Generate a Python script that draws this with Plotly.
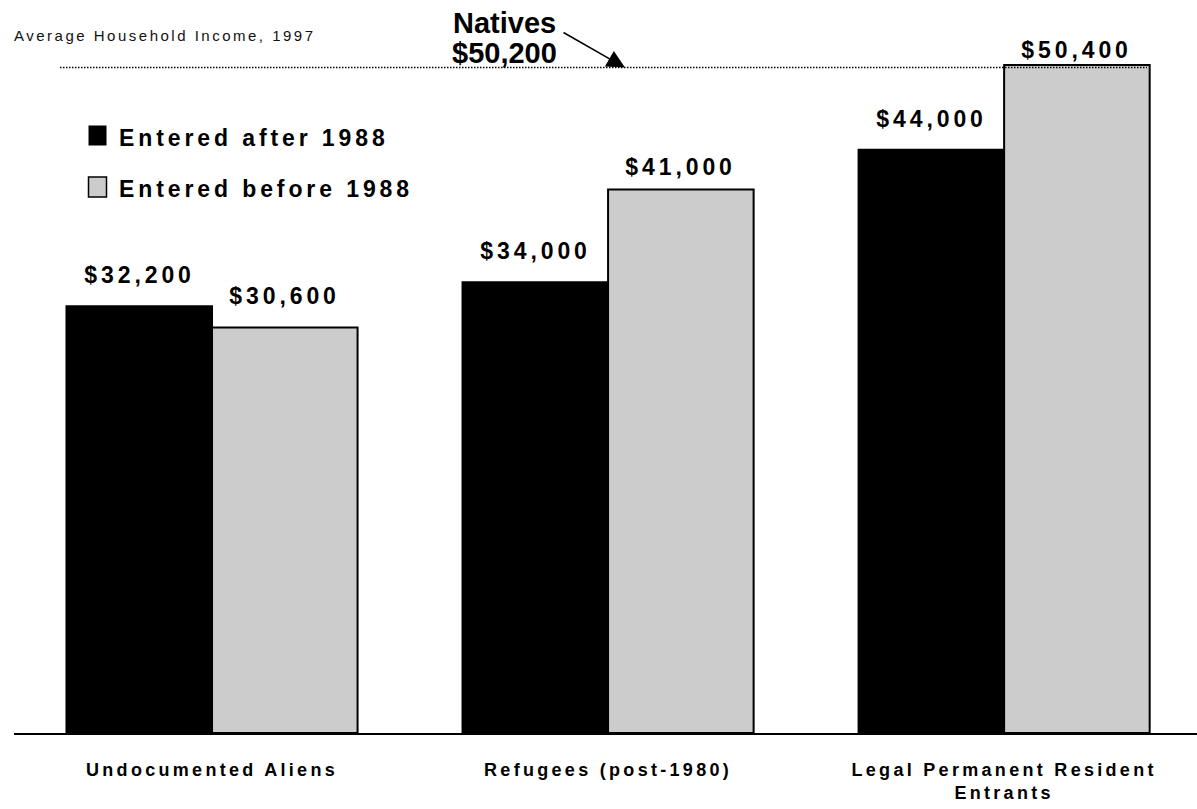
import json
import plotly.graph_objects as go

# ---- data -------------------------------------------------------------
categories = [
    "Undocumented Aliens",
    "Refugees (post-1980)",
    "Legal Permanent Resident<br>Entrants",
]
after_1988 = [32200, 34000, 44000]
before_1988 = [30600, 41000, 50400]
natives_income = 50200
series_names = ["Entered after 1988", "Entered before 1988"]
chart_title = "Average Household Income, 1997"

# ---- geometry ---------------------------------------------------------
W, H = 1197, 809
L, R, T, B = 14, 0, 4, 76
PW = W - L - R
PH = H - T - B
BASE_Y = H - B          # pixel row of the category axis


def px(x):
    """page pixel column -> paper x"""
    return (x - L) / PW


def py(y):
    """page pixel row -> paper y"""
    return (BASE_Y - y) / PH


BARGAP = 0.265
HALF = (1 - BARGAP) / 4   # distance from category centre to each bar centre

BLACK = "#000000"
GRAY = "#cccccc"
FONT = "Liberation Sans, Arial, Helvetica, sans-serif"


def money(v):
    return "${:,}".format(v)


fig = go.Figure()
fig.add_bar(
    x=categories, y=after_1988, name=series_names[0],
    marker=dict(color=BLACK, line=dict(color=BLACK, width=2)),
)
fig.add_bar(
    x=categories, y=before_1988, name=series_names[1],
    marker=dict(color=GRAY, line=dict(color=BLACK, width=2)),
)

# value labels above each bar (lift = gap in px between bar top and label)
lift_after = [31, 31, 31]
lift_before = [31, 22.5, 15]
label_font = dict(family=FONT, size=23, color=BLACK, weight="bold")
for i, (v, lift) in enumerate(zip(after_1988, lift_after)):
    fig.add_annotation(x=i - HALF, y=v, xref="x", yref="y", text=money(v),
                       showarrow=False, yshift=lift, yanchor="middle",
                       font=label_font)
for i, (v, lift) in enumerate(zip(before_1988, lift_before)):
    fig.add_annotation(x=i + HALF, y=v, xref="x", yref="y", text=money(v),
                       showarrow=False, yshift=lift, yanchor="middle",
                       font=label_font)

# natives reference line with its callout
fig.add_shape(type="line", xref="paper", yref="y",
              x0=px(60), x1=px(1147), y0=natives_income, y1=natives_income,
              line=dict(color=BLACK, width=1.5, dash="1.5px,1.5px"),
              layer="above")
natives_font = dict(family=FONT, size=29, color=BLACK, weight="bold")
fig.add_annotation(x=px(504), y=py(23), xref="paper", yref="paper",
                   text="Natives", showarrow=False, xanchor="center",
                   yanchor="middle", font=natives_font)
fig.add_annotation(x=px(504), y=py(53), xref="paper", yref="paper",
                   text=money(natives_income), showarrow=False,
                   xanchor="center", yanchor="middle", font=natives_font)
fig.add_annotation(x=px(625), y=natives_income, xref="paper", yref="y",
                   text="", showarrow=True, ax=-63, ay=-36,
                   arrowhead=2, arrowsize=2.4, arrowwidth=1.5,
                   arrowcolor=BLACK, standoff=0)

# title
fig.add_annotation(x=px(12), y=py(36), xref="paper", yref="paper",
                   text=chart_title, showarrow=False, xanchor="left",
                   yanchor="middle",
                   font=dict(family=FONT, size=15, color="#111111"))

# legend keys
legend_rows = [(135.5, BLACK, 0), (187, GRAY, 1.5)]
for (cy, fill, lw), name in zip(legend_rows, series_names):
    fig.add_shape(type="rect", xref="paper", yref="paper",
                  x0=px(88.5), x1=px(106.5), y0=py(cy + 10), y1=py(cy - 10),
                  fillcolor=fill,
                  line=dict(color=BLACK, width=lw) if lw else dict(width=0))
    fig.add_annotation(x=px(117), y=py(cy + 2), xref="paper", yref="paper",
                       text=name, showarrow=False, xanchor="left",
                       yanchor="middle", font=label_font)

fig.update_layout(
    width=W, height=H,
    margin=dict(l=L, r=R, t=T, b=B, pad=0),
    paper_bgcolor="white", plot_bgcolor="white",
    barmode="group", bargap=BARGAP, bargroupgap=0,
    showlegend=False,
    font=dict(family=FONT, color=BLACK),
)
fig.update_xaxes(
    type="category", range=[-0.5, 2.487],
    showline=True, linecolor=BLACK, linewidth=2,
    showgrid=False, zeroline=False, ticks="",
    ticklabelstandoff=19,
    tickfont=dict(family=FONT, size=18, color=BLACK, weight="bold"),
)
fig.update_yaxes(range=[0, 55000], visible=False, showgrid=False)

# widen the tracking of the bold labels (letter-spacing by font size)
spacing = {"23": 3.9, "18": 3.3, "15": 2.5}
left_aligned = [chart_title] + series_names
post = (
    "var gd = document.getElementById('{plot_id}');\n"
    "var SPACING = " + json.dumps(spacing) + ";\n"
    "var LEFT = " + json.dumps(left_aligned) + ";\n"
    """
function spread(){
  gd.querySelectorAll('text').forEach(function(t){
    if (t.getAttribute('data-spread')) return;
    var fs = Math.round(parseFloat(window.getComputedStyle(t).fontSize));
    var ls = SPACING[String(fs)];
    if (!ls) return;
    var b0 = t.getBBox();
    t.style.letterSpacing = ls + 'px';
    var b1 = t.getBBox();
    var left = LEFT.indexOf(t.textContent) >= 0;
    var dx = left ? (b0.x - b1.x)
                  : ((b0.x + b0.width / 2) - (b1.x + b1.width / 2));
    var els = [t].concat(Array.prototype.slice.call(t.querySelectorAll('tspan')));
    els.forEach(function(e){
      if (e.hasAttribute('x')) {
        e.setAttribute('x', parseFloat(e.getAttribute('x')) + dx);
      }
    });
    t.setAttribute('data-spread', '1');
  });
}
spread();
gd.on('plotly_afterplot', spread);
"""
)

fig.write_html("out.html", config={"displayModeBar": False}, post_script=post)
